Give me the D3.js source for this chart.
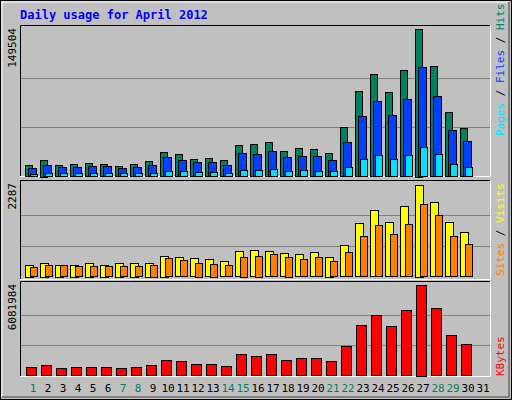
<!DOCTYPE html>
<html><head><meta charset="utf-8">
<script src="https://cdn.jsdelivr.net/npm/d3@7"></script>
<style>body{margin:0;background:#fff}text{font-family:"DejaVu Sans Mono",monospace}</style>
</head><body><svg id="c" width="512" height="400"></svg>
<script>
const days = d3.range(1, 32);
const weekend = [1, 7, 8, 14, 15, 21, 22, 28, 29];
const hits = [11500,17200,11500,12500,13500,12500,10500,12500,15600,24700,22600,17600,18600,16600,31800,32800,34800,25700,28700,27700,23700,50000,86600,103800,85600,107900,149504,112000,65300,49000];
const files = [8500,11500,9500,9500,10500,10500,8500,9500,11500,19600,16600,14500,14500,11500,23700,22600,25700,19600,20600,20600,16600,34800,61200,76400,62200,78400,110900,81500,47000,35800];
const pages = [2400,3400,3400,3400,3400,3400,3400,3400,3400,5400,5400,4400,4400,3400,6400,6400,7400,5400,6400,5400,5400,9500,17600,21600,17600,21600,29700,22600,12500,9500];
const visits = [298,348,298,298,348,298,348,348,348,522,473,448,423,373,622,647,622,572,547,597,497,771,1318,1641,1343,1741,2287,1840,1343,1094];
const sites = [224,274,274,249,249,249,249,249,298,448,398,348,323,274,497,522,547,497,423,473,373,597,995,1268,1045,1293,1791,1517,995,796];
const kbytes = [555000,688000,488000,555000,555000,555000,488000,555000,688000,1021000,954000,755000,755000,622000,1421000,1287000,1421000,1021000,1154000,1154000,954000,1953000,3352000,4018000,3285000,4351000,6081984,4484000,2686000,2087000];

const svg = d3.select('#c');
svg.append('rect').attr('x', 0.5).attr('y', 0.5).attr('width', 511).attr('height', 399).attr('fill', '#c0c0c0').attr('stroke', '#000');
svg.append('path').attr('d', 'M2,397V2H509').attr('fill', 'none').attr('stroke', '#fff');
svg.append('path').attr('d', 'M509,2V397H2').attr('fill', 'none').attr('stroke', '#808080').attr('stroke-width', 2);

svg.append('text').attr('x', 20).attr('y', 19).attr('fill', '#0000ff').attr('font-size', 12).attr('font-weight', 'bold').text('Daily usage for April 2012');

const x = d3.scaleBand().domain(days).range([19.5, 484.5]);

// panel: top, bottom (bar baseline), max value
const panels = [
  {top: 25, bottom: 177, base: 176.5, peak: 29, max: 149504, label: '149504'},
  {top: 180, bottom: 280, base: 276.5, peak: 184.5, max: 2287, label: '2287'},
  {top: 281, bottom: 377, base: 375.5, peak: 284.5, max: 6081984, label: '6081984'}
];

panels.forEach(p => {
  p.y = d3.scaleLinear().domain([0, p.max]).range([p.base, p.peak]);
  svg.append('rect').attr('x', 20).attr('y', p.top).attr('width', 470).attr('height', p.bottom - p.top).attr('fill', '#c0c0c0');
  [1 / 3, 2 / 3].forEach(f => {
    const gy = Math.round(p.base - (p.base - p.peak) * f) + 0.5;
    svg.append('line').attr('x1', 21).attr('x2', 490).attr('y1', gy).attr('y2', gy).attr('stroke', '#808080');
  });
  svg.append('path').attr('d', `M20.5,${p.bottom}V${p.top + 0.5}H490`).attr('fill', 'none').attr('stroke', '#000');
  svg.append('path').attr('d', `M490.5,${p.top}V${p.bottom - 0.5}H20`).attr('fill', 'none').attr('stroke', '#fff');
  svg.append('text').attr('transform', `translate(16,${p.top + 3}) rotate(-90)`).attr('text-anchor', 'end')
    .attr('font-size', 11).attr('fill', '#000').text(p.label);
});

function bars(data, p, dx, w, color) {
  svg.append('g').selectAll('rect').data(data).enter().append('rect')
    .attr('x', (d, i) => Math.round(x(i + 1) + dx) + 0.5)
    .attr('y', d => Math.round(p.y(d)) + 0.5)
    .attr('width', w)
    .attr('height', d => Math.max(0, Math.round(p.base - p.y(d))))
    .attr('fill', color).attr('stroke', '#000');
}
bars(hits, panels[0], 5.5, 7, '#00805f');
bars(files, panels[0], 8, 8, '#0040ff');
bars(pages, panels[0], 10, 7, '#00e0ff');
bars(visits, panels[1], 5.5, 8, '#ffff00');
bars(sites, panels[1], 10, 7, '#ff8000');
bars(kbytes, panels[2], 6.5, 10, '#ff0000');

svg.append('g').selectAll('text').data(days).enter().append('text')
  .attr('x', d => x(d) + 13.5).attr('y', 392).attr('text-anchor', 'middle').attr('font-size', 11)
  .attr('fill', d => weekend.includes(d) ? '#00805f' : '#000').text(d => d);

function legend(yBottom, items) {
  const t = svg.append('text').attr('transform', `translate(504,${yBottom}) rotate(-90)`).attr('font-size', 11);
  items.forEach((it, i) => {
    if (i) t.append('tspan').attr('fill', '#000').text(' / ');
    t.append('tspan').attr('fill', it[1]).text(it[0]);
  });
}
legend(136, [['Pages', '#00e0ff'], ['Files', '#0040ff'], ['Hits', '#00805f']]);
legend(276, [['Sites', '#ff8000'], ['Visits', '#ffff00']]);
legend(376, [['KBytes', '#ff0000']]);
</script></body></html>
